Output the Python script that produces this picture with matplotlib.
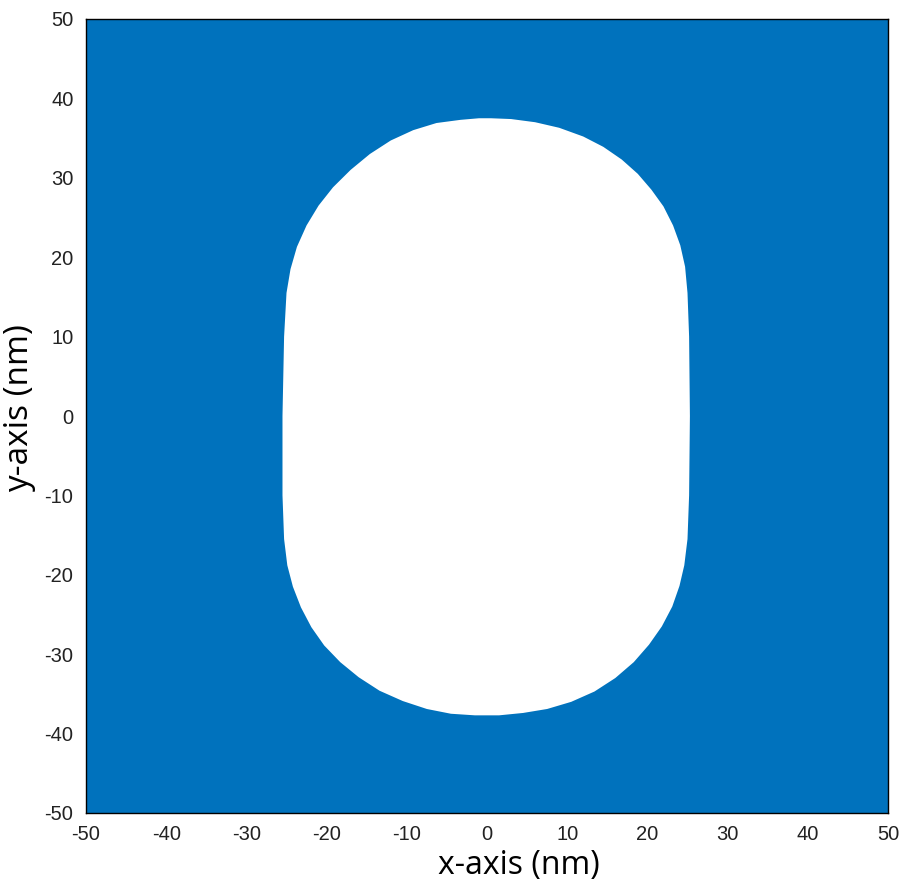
import matplotlib
matplotlib.use("Agg")
import matplotlib.pyplot as plt
from matplotlib import font_manager as fm
from matplotlib.path import Path
from matplotlib.patches import PathPatch

# ---- data ----
domain_x = [-50, 50]
domain_y = [-50, 50]
x_ticks = [-50, -40, -30, -20, -10, 0, 10, 20, 30, 40, 50]
y_ticks = [-50, -40, -30, -20, -10, 0, 10, 20, 30, 40, 50]
# outline of the empty (white) hole, clockwise from the top
hole_x = [0.5, 3.0, 6.0, 9.0, 12.0, 14.5, 16.8, 18.8, 20.5, 22.0, 23.2, 24.1, 24.7, 25.0,
          25.2, 25.3, 25.2, 25.0, 24.6, 24.0, 23.1, 21.8, 20.2, 18.3, 16.0, 13.4, 10.5,
          7.5, 4.5, 1.5, -1.5,
          -4.5, -7.5, -10.5, -13.4, -16.0, -18.3, -20.3, -21.9, -23.2, -24.2, -24.9, -25.3,
          -25.5, -25.5, -25.3, -25.0, -24.5, -23.7, -22.5, -21.0, -19.2, -17.0, -14.6,
          -12.0, -9.2, -6.3, -3.3, -1.0]
hole_y = [37.5, 37.4, 37.0, 36.3, 35.2, 33.9, 32.3, 30.5, 28.5, 26.4, 24.0, 21.5, 18.8, 15.5,
          10.0, 0.0, -10.0, -15.5, -18.8, -21.4, -24.0, -26.5, -28.8, -31.0, -33.0, -34.7,
          -36.0, -36.9, -37.4, -37.7, -37.7,
          -37.5, -36.9, -35.9, -34.6, -32.9, -31.0, -28.9, -26.6, -24.1, -21.5, -18.8,
          -15.5, -10.0, 0.0, 10.0, 15.5, 18.5, 21.3, 24.0, 26.5, 28.8, 31.0, 33.0,
          34.7, 36.0, 36.9, 37.3, 37.5]

fill_color = "#0072BD"

avail = {f.name for f in fm.fontManager.ttflist}
tick_font = [f for f in ["Liberation Sans Narrow", "Liberation Sans", "DejaVu Sans"] if f in avail]
label_font = [f for f in ["Open Sans", "Noto Sans", "DejaVu Sans"] if f in avail]

fig = plt.figure(figsize=(9.04, 8.81), dpi=100)
ax = fig.add_axes([86 / 904, 1 - 813 / 881, (888 - 86) / 904, (813 - 19) / 881])

# blue domain with the hole cut out
outer = [(domain_x[0], domain_y[0]), (domain_x[1], domain_y[0]),
         (domain_x[1], domain_y[1]), (domain_x[0], domain_y[1]), (domain_x[0], domain_y[0])]
hole = list(zip(hole_x, hole_y))
hole = hole + [hole[0]]
verts = outer + hole
codes = ([Path.MOVETO] + [Path.LINETO] * 3 + [Path.CLOSEPOLY] +
         [Path.MOVETO] + [Path.LINETO] * (len(hole) - 2) + [Path.CLOSEPOLY])
ax.add_patch(PathPatch(Path(verts, codes), facecolor=fill_color, edgecolor="none"))

ax.set_xlim(domain_x)
ax.set_ylim(domain_y)
ax.set_xticks(x_ticks)
ax.set_yticks(y_ticks)
ax.set_xticklabels([str(v) for v in x_ticks], family=tick_font, fontsize=14.5)
ax.set_yticklabels([str(v) for v in y_ticks], family=tick_font, fontsize=14.5)
ax.tick_params(length=0, pad=9, colors="#222222")
for s in ax.spines.values():
    s.set_linewidth(1.0)
    s.set_color("black")

ax.set_xlabel("x-axis (nm)", family=label_font, fontsize=23)
ax.set_ylabel("y-axis (nm)", family=label_font, fontsize=24)
ax.xaxis.set_label_coords(0.54, -0.045)
ax.yaxis.set_label_coords(-0.062, 0.51)

fig.savefig("out.png", dpi=100)
